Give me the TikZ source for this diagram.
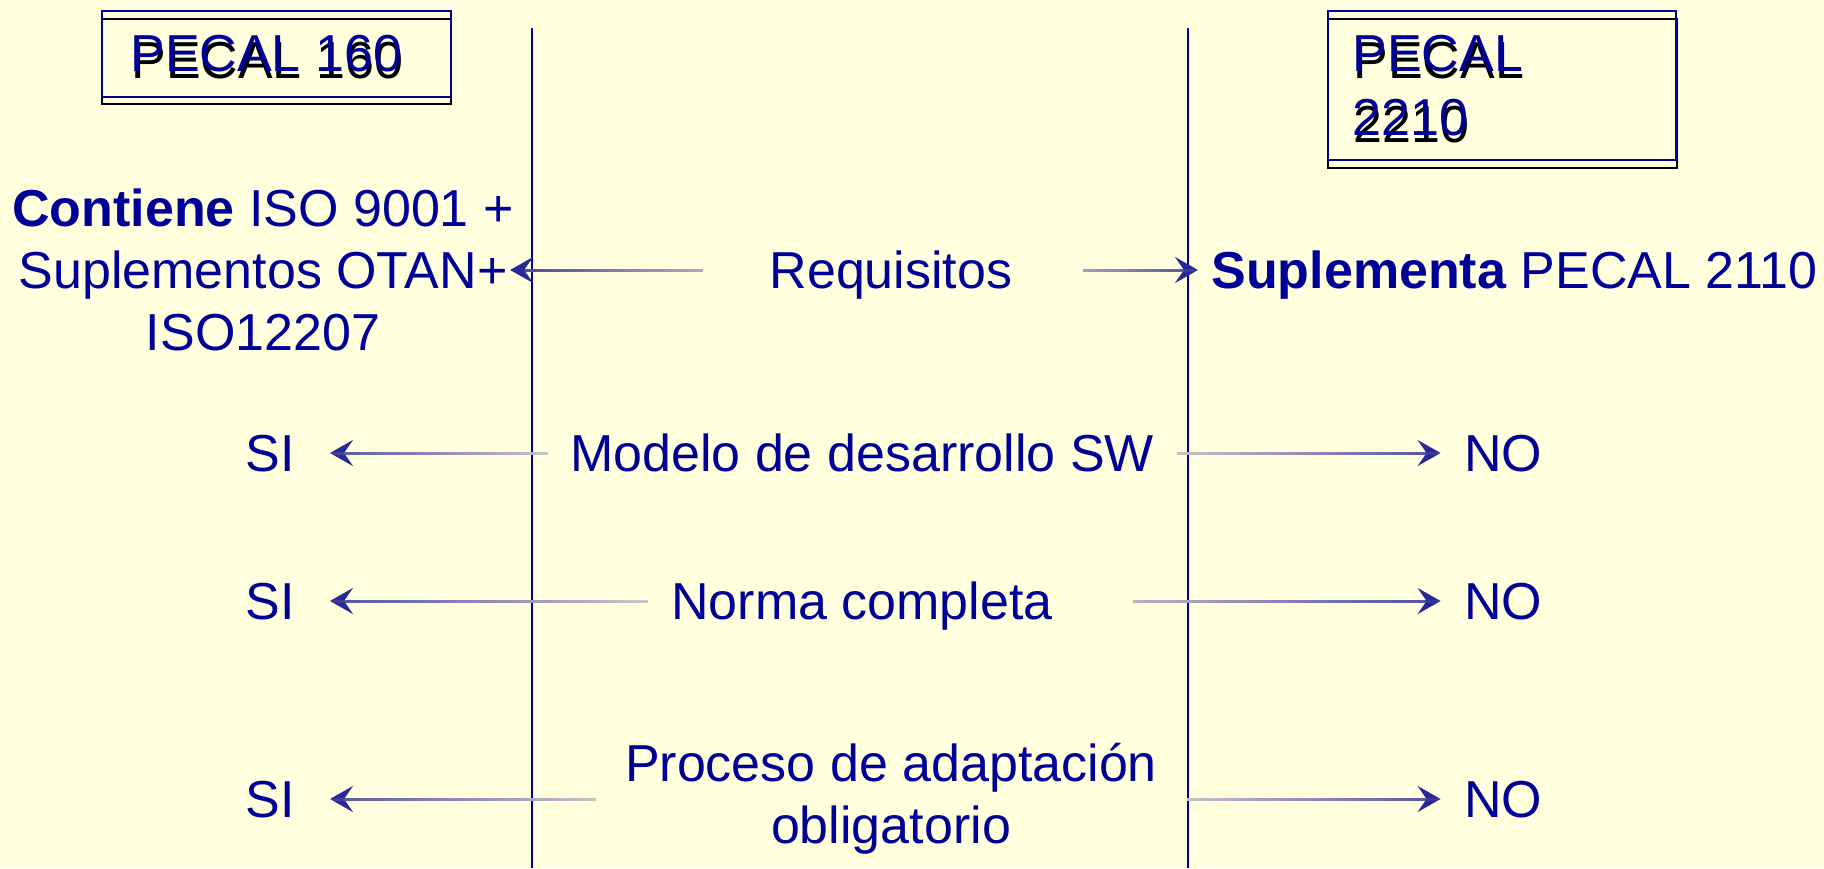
\documentclass[tikz,border=0pt]{standalone}
\usepackage{fontspec}
\setmainfont{Liberation Sans}
\usetikzlibrary{arrows.meta,fadings}

\definecolor{fondo}{RGB}{255,255,221}
\definecolor{azul}{RGB}{0,0,153}
\definecolor{linazul}{RGB}{70,70,160}
\definecolor{puntazul}{RGB}{40,40,150}

\tikzfading[name=tapader, left color=transparent!25, right color=transparent!100]
\tikzfading[name=tapaizq, left color=transparent!100, right color=transparent!25]

\tikzset{
  txt/.style={text=azul, inner sep=0pt, font=\fontsize{26}{31}\selectfont},
  fila/.style={txt, text height=18.6pt, text depth=0pt},
  flecha/.style={draw=linazul, line width=1.5pt,
    -{Stealth[length=11.5pt, width=13pt, inset=4.5pt, color=puntazul]}},
  flechader/.style={flecha, postaction={draw=fondo, -, path fading=tapader}},
  flechaizq/.style={flecha, postaction={draw=fondo, -, path fading=tapaizq}},
  caja/.style={line width=1pt},
}

\begin{document}
\begin{tikzpicture}[x=0.5pt, y=-0.5pt]
  \fill[fondo] (0,0) rectangle (1824,868);
  \useasboundingbox (0,0) rectangle (1824,868);

  % lineas verticales
  \draw[azul, line width=1pt] (532,28) -- (532,868);
  \draw[azul, line width=1pt] (1188,28) -- (1188,868);

  % cajas de cabecera
  \draw[caja, black] (102,19) rectangle (451,104);
  \draw[caja, azul] (102,11) rectangle (451,97);
  \node[txt, text=black, anchor=north west] at (131,42) {PECAL 160};
  \node[txt, anchor=north west] (p160) at (130,35) {PECAL 160};

  \draw[caja, black] (1328,19) rectangle (1677,168);
  \draw[caja, azul] (1328,11) rectangle (1676,160);
  \node[txt, text=black, anchor=north west, align=left, font=\fontsize{26}{32}\selectfont]
    at (1353,42) {PECAL\\2210};
  \node[txt, anchor=north west, align=left, font=\fontsize{26}{32}\selectfont]
    (p2210) at (1352,35) {PECAL\\2210};

  % filas
  \node[txt, align=center] (ctn) at (263,270)
    {\textbf{Contiene} ISO 9001 +\\Suplementos OTAN+\\ISO12207};
  \node[fila] (req) at (891,270) {Requisitos};
  \node[fila, anchor=west] (sup) at (1211,270) {\textbf{Suplementa} PECAL 2110};

  \node[fila] (si2) at (270,453) {SI};
  \node[fila] (mod) at (862,453) {Modelo de desarrollo SW};
  \node[fila] (no2) at (1503,453) {NO};

  \node[fila] (si3) at (270,601) {SI};
  \node[fila] (nor) at (862,601) {Norma completa};
  \node[fila] (no3) at (1503,601) {NO};

  \node[fila] (si4) at (270,799) {SI};
  \node[txt, align=center] (proc) at (891,799) {Proceso de adaptación\\obligatorio};
  \node[fila] (no4) at (1503,799) {NO};

  % flechas
  \draw[flechaizq, shorten <=33pt, shorten >=-2pt] (req) -- (ctn);
  \draw[flechader, shorten <=35pt, shorten >=6.5pt] (req) -- (sup);
  \draw[flechaizq, shorten <=11pt, shorten >=17.5pt] (mod) -- (si2);
  \draw[flechader, shorten <=11.5pt, shorten >=11.5pt] (mod) -- (no2);
  \draw[flechaizq, shorten <=11.5pt, shorten >=17.5pt] (nor) -- (si3);
  \draw[flechader, shorten <=40pt, shorten >=11.5pt] (nor) -- (no3);
  \draw[flechaizq, shorten <=14.5pt, shorten >=17.5pt] (proc) -- (si4);
  \draw[flechader, shorten <=15pt, shorten >=11.5pt] (proc) -- (no4);
\end{tikzpicture}
\end{document}
